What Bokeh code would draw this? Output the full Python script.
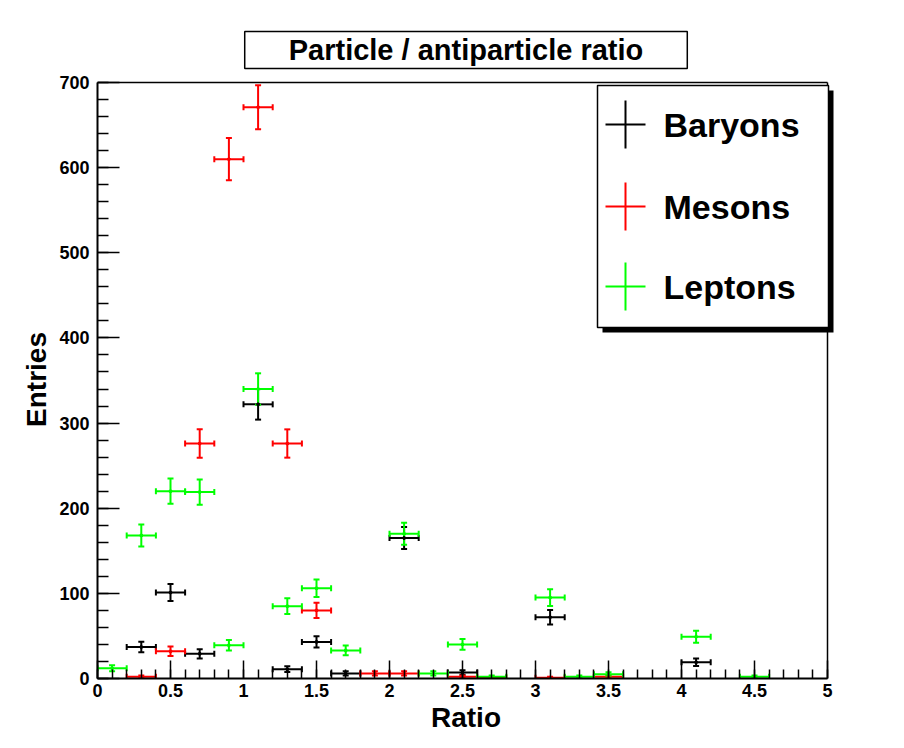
import numpy as np
from bokeh.plotting import figure
from bokeh.models import (ColumnDataSource, Whisker, TeeHead, FixedTicker, Label)
from bokeh.embed import file_html
from bokeh.resources import INLINE

# ---------------- data ----------------
bin_width = 0.2
bin_centers = [0.1, 0.3, 0.5, 0.7, 0.9, 1.1, 1.3, 1.5, 1.7, 1.9, 2.1, 2.3, 2.5,
               2.7, 2.9, 3.1, 3.3, 3.5, 3.7, 3.9, 4.1, 4.3, 4.5, 4.7, 4.9]
baryons = [0, 37, 101, 29, 0, 322, 11, 43, 6, 0, 165, 0, 7,
           0, 0, 72, 0, 0, 0, 0, 19, 0, 0, 0, 0]
mesons = [0, 2, 32, 276, 610, 671, 276, 80, 0, 6, 6, 0, 2,
          1, 0, 1, 0, 2, 0, 0, 0, 0, 0, 0, 0]
leptons = [12, 168, 220, 219, 39, 340, 85, 106, 33, 0, 170, 6, 40,
           2, 0, 95, 2, 5, 0, 0, 49, 0, 2, 0, 0]
series_names = ["Baryons", "Mesons", "Leptons"]
series_colors = ["#000000", "#ff0000", "#00ff00"]

x_tick_values = [0, 0.5, 1, 1.5, 2, 2.5, 3, 3.5, 4, 4.5, 5]
x_tick_labels = ["0", "0.5", "1", "1.5", "2", "2.5", "3", "3.5", "4", "4.5", "5"]
x_minor = [round(0.1 * i, 1) for i in range(51)]
y_tick_values = [0, 100, 200, 300, 400, 500, 600, 700]
y_minor = list(range(0, 701, 20))

title_text = "Particle / antiparticle ratio"
x_title = "Ratio"
y_title = "Entries"

# ---------------- layout ----------------
W, H = 904, 748
FL, FR, FT, FB = 97, 827, 82, 678          # axes box edges in pixels
XMIN, XMAX, YMIN, YMAX = 0, 5, 0, 700
pxx = (FR - FL) / (XMAX - XMIN)            # px per x unit
pxy = (FB - FT) / (YMAX - YMIN)            # px per y unit
CR, CT = 834, 80                           # drawing area right / top (px)


def dx(px):
    return XMIN + (px - FL) / pxx


def dy(py):
    return YMIN + (FB - py) / pxy


FONT = "Liberation Sans"

p = figure(width=W, height=H, x_range=(XMIN, dx(CR)), y_range=(YMIN, dy(CT)),
           output_backend="svg", toolbar_location=None,
           min_border_left=FL, min_border_right=W - CR,
           min_border_top=CT, min_border_bottom=H - FB)
p.background_fill_color = "white"
p.border_fill_color = "white"
p.outline_line_color = None
p.xgrid.visible = False
p.ygrid.visible = False

# title in a framed box
p.title.text = title_text
p.title.align = "center"
p.title.text_font = FONT
p.title.text_font_style = "bold"
p.title.text_font_size = "29px"
p.title.text_color = "black"
p.title.border_line_color = "black"
p.title.border_line_width = 1.5
p.title.background_fill_color = "white"
p.title.padding = dict(left=44, right=44, top=2, bottom=3)
p.title.standoff = 24

for ax in (p.xaxis[0], p.yaxis[0]):
    ax.axis_line_color = "black"
    ax.axis_line_width = 2
    ax.major_tick_line_color = "black"
    ax.minor_tick_line_color = "black"
    ax.major_tick_line_width = 1.5
    ax.minor_tick_line_width = 1.5
    ax.major_tick_out = 0
    ax.minor_tick_out = 0
    ax.major_label_text_font = FONT
    ax.major_label_text_font_style = "bold"
    ax.major_label_text_font_size = "18px"
    ax.major_label_text_color = "black"
    ax.axis_label_text_font = FONT
    ax.axis_label_text_font_style = "bold"
    ax.axis_label_text_font_size = "28px"
    ax.axis_label_text_color = "black"

p.xaxis.bounds = (XMIN, XMAX)
p.xaxis.ticker = FixedTicker(ticks=x_tick_values, minor_ticks=x_minor)
p.xaxis.major_label_overrides = {float(v): l for v, l in zip(x_tick_values, x_tick_labels)}
p.xaxis.major_tick_in = 18
p.xaxis.minor_tick_in = 9
p.xaxis.major_label_standoff = 5
p.xaxis.axis_label = x_title
p.xaxis.axis_label_standoff = 2

p.yaxis.bounds = (YMIN, YMAX)
p.yaxis.ticker = FixedTicker(ticks=y_tick_values, minor_ticks=y_minor)
p.yaxis.major_tick_in = 22
p.yaxis.minor_tick_in = 11
p.yaxis.major_label_standoff = 8
p.yaxis.axis_label = y_title
p.yaxis.axis_label_standoff = 4

# top and right frame lines
p.segment(x0=[XMIN, XMAX], y0=[YMAX, YMIN], x1=[XMAX, XMAX], y1=[YMAX, YMAX],
          line_color="black", line_width=1.5)

# ---------------- histograms with errors ----------------
for counts, color in zip([baryons, mesons, leptons], series_colors):
    xs = np.array([c for c, n in zip(bin_centers, counts) if n > 0], dtype=float)
    ys = np.array([n for n in counts if n > 0], dtype=float)
    err = np.sqrt(ys)
    src = ColumnDataSource(dict(x=xs, y=ys, xl=xs - bin_width / 2, xr=xs + bin_width / 2,
                                yl=ys - err, yu=ys + err))
    vw = Whisker(source=src, base="x", lower="yl", upper="yu", dimension="height",
                 line_color=color, line_width=2,
                 upper_head=TeeHead(size=6, line_color=color, line_width=2),
                 lower_head=TeeHead(size=6, line_color=color, line_width=2))
    hw = Whisker(source=src, base="y", lower="xl", upper="xr", dimension="width",
                 line_color=color, line_width=2,
                 upper_head=TeeHead(size=6, line_color=color, line_width=2),
                 lower_head=TeeHead(size=6, line_color=color, line_width=2))
    p.add_layout(vw)
    p.add_layout(hw)
    p.scatter("x", "y", source=src, size=3, color=color)

# ---------------- legend ----------------
sh = 5
p.quad(left=[dx(597 + sh)], right=[dx(828 + sh)], top=[dy(85 + sh)], bottom=[dy(327 + sh)],
       fill_color="black", line_color=None)
p.quad(left=[dx(597)], right=[dx(828)], top=[dy(85)], bottom=[dy(327)],
       fill_color="white", line_color="black", line_width=1.5)
leg_rows = [124, 206, 286]
for name, color, ry in zip(series_names, series_colors, leg_rows):
    yc = dy(ry)
    p.segment(x0=[dx(605)], x1=[dx(645)], y0=[yc], y1=[yc], line_color=color,
              line_width=2)
    p.segment(x0=[dx(625)], x1=[dx(625)], y0=[dy(ry - 24)], y1=[dy(ry + 24)],
              line_color=color, line_width=2)
    p.add_layout(Label(x=dx(663), y=yc, text=name, text_font=FONT,
                       text_font_style="bold", text_font_size="34px",
                       text_baseline="middle", text_color="black"))

open("out.html", "w").write(file_html(p, INLINE))
